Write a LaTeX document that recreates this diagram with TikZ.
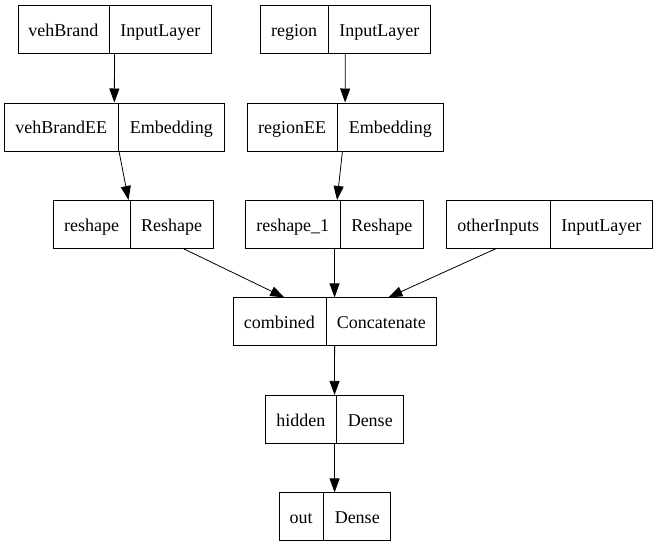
\documentclass[tikz,border=0pt]{standalone}
\usepackage{fontspec}
\setmainfont{Liberation Serif}
\usetikzlibrary{shapes.multipart,arrows.meta}
% one field of a layer box: width, text
\newcommand{\fld}[2]{\makebox[#1pt]{\rule[-17pt]{0pt}{48pt}#2}}
\tikzset{
	layer/.style={draw, rectangle split, rectangle split horizontal, rectangle split parts=2,
		inner sep=0pt, line width=0.8pt, font=\fontsize{18}{21}\selectfont},
	flow/.style={-{Triangle[length=14pt,width=10pt]}, line width=0.8pt}
}
\begin{document}
\begin{tikzpicture}[x=1pt,y=-1pt]
		\useasboundingbox (0,0) rectangle (657,547);
		% inputs and embeddings
		\node[layer] (vehBrand) at (114.55,29.5) {\fld{91}{vehBrand}\nodepart{two}\fld{101.5}{InputLayer}};
		\node[layer] (region) at (345.25,29.5) {\fld{67.6}{region}\nodepart{two}\fld{101.5}{InputLayer}};
		\node[layer] (vehBrandEE) at (114.25,126.9) {\fld{113.3}{vehBrandEE}\nodepart{two}\fld{105.2}{Embedding}};
		\node[layer] (regionEE) at (345.1,126.9) {\fld{89.6}{regionEE}\nodepart{two}\fld{105.2}{Embedding}};
		\node[layer] (reshape) at (133.25,224.4) {\fld{76}{reshape}\nodepart{two}\fld{82.5}{Reshape}};
		\node[layer] (reshape1) at (334.4,224.4) {\fld{94.3}{reshape\_1}\nodepart{two}\fld{82.5}{Reshape}};
		\node[layer] (otherInputs) at (549.4,224.4) {\fld{103.3}{otherInputs}\nodepart{two}\fld{101.5}{InputLayer}};
		% merge and dense part
		\node[layer] (combined) at (334.65,321.8) {\fld{92.7}{combined}\nodepart{two}\fld{110}{Concatenate}};
		\node[layer] (hidden) at (334.5,419.3) {\fld{70.7}{hidden}\nodepart{two}\fld{66.3}{Dense}};
		\node[layer] (out) at (334.65,516.8) {\fld{44.4}{out}\nodepart{two}\fld{66.3}{Dense}};
		\draw[flow] (vehBrand) -- (vehBrandEE);
		\draw[flow] (region) -- (regionEE);
		\draw[flow] (vehBrandEE) -- (reshape);
		\draw[flow] (regionEE) -- (reshape1);
		\foreach \src in {reshape,reshape1,otherInputs} \draw[flow] (\src) -- (combined);
		\draw[flow] (combined) -- (hidden);
		\draw[flow] (hidden) -- (out);
	\end{tikzpicture}
\end{document}
